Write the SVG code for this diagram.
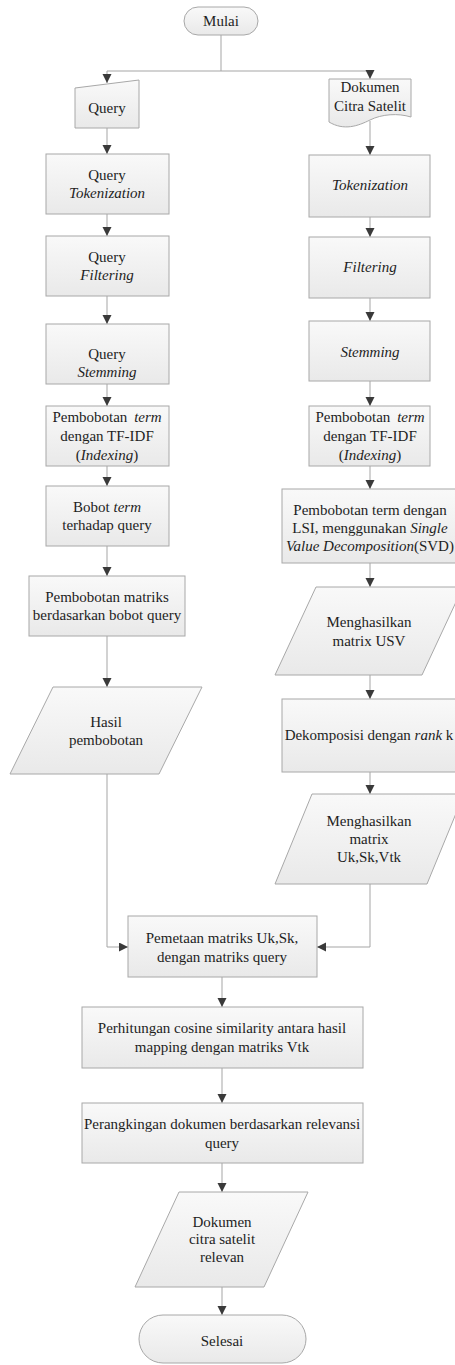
<svg xmlns="http://www.w3.org/2000/svg" width="455" height="1365" viewBox="0 0 455 1365">
<style>
.s{fill:url(#g);stroke:#a8a8a8;stroke-width:1}
.t{font-family:"Liberation Serif","Times New Roman",serif;font-size:15px;fill:#1e1e1e;text-anchor:middle}
.i{font-style:italic}
.c{fill:none;stroke:#a5a5a5;stroke-width:1}
</style>
<defs>
<linearGradient id="g" x1="0" y1="0" x2="0" y2="1">
<stop offset="0" stop-color="#f9f9f9"/>
<stop offset="1" stop-color="#e9e9e9"/>
</linearGradient>
<marker id="a" markerUnits="userSpaceOnUse" markerWidth="10" markerHeight="10" refX="9" refY="4.5" orient="auto">
<path d="M0,0 L9,4.5 L0,9 z" fill="#3a3a3a"/>
</marker>
</defs>
<rect width="455" height="1365" fill="#ffffff"/>
<g id="connectors">
<path class="c" d="M221,35 V71 H107 V83" marker-end="url(#a)"/>
<path class="c" d="M221,71 H370 V79" marker-end="url(#a)"/>
<path class="c" d="M107,128 V154" marker-end="url(#a)"/>
<path class="c" d="M107,214 V236" marker-end="url(#a)"/>
<path class="c" d="M107,296 V324" marker-end="url(#a)"/>
<path class="c" d="M107,384 V406" marker-end="url(#a)"/>
<path class="c" d="M107,466 V486" marker-end="url(#a)"/>
<path class="c" d="M107,546 V576" marker-end="url(#a)"/>
<path class="c" d="M107,636 V687" marker-end="url(#a)"/>
<path class="c" d="M107,774 V947 H128" marker-end="url(#a)"/>
<path class="c" d="M370,121 V155" marker-end="url(#a)"/>
<path class="c" d="M370,217 V237" marker-end="url(#a)"/>
<path class="c" d="M370,298 V321" marker-end="url(#a)"/>
<path class="c" d="M370,381 V406" marker-end="url(#a)"/>
<path class="c" d="M370,466 V489" marker-end="url(#a)"/>
<path class="c" d="M370,563 V587" marker-end="url(#a)"/>
<path class="c" d="M370,675 V699" marker-end="url(#a)"/>
<path class="c" d="M370,772 V794" marker-end="url(#a)"/>
<path class="c" d="M370,884 V947 H317" marker-end="url(#a)"/>
<path class="c" d="M222,977 V1007" marker-end="url(#a)"/>
<path class="c" d="M222,1068 V1103" marker-end="url(#a)"/>
<path class="c" d="M222,1163 V1192" marker-end="url(#a)"/>
<path class="c" d="M222,1287 V1315" marker-end="url(#a)"/>
</g>
<g id="mulai">
<rect class="s" x="184" y="7" width="74" height="28" rx="14"/>
<text class="t" x="221" y="26">Mulai</text>
</g>
<g id="query">
<path class="s" d="M75,88 L139,80 V128 H75 Z"/>
<text class="t" x="107" y="113">Query</text>
</g>
<g id="dokumen">
<path class="s" d="M329,79 H411 V117 C398,113 382,114 370,120 C358,126 344,131 329,122 Z"/>
<text class="t" x="370" y="92">Dokumen</text>
<text class="t" x="370" y="111">Citra Satelit</text>
</g>
<g id="q-token">
<rect class="s" x="46" y="154" width="123" height="60"/>
<text class="t" x="107" y="180">Query</text>
<text class="t i" x="107" y="198">Tokenization</text>
</g>
<g id="q-filter">
<rect class="s" x="46" y="236" width="123" height="60"/>
<text class="t" x="107" y="262">Query</text>
<text class="t i" x="107" y="280">Filtering</text>
</g>
<g id="q-stem">
<rect class="s" x="46" y="324" width="123" height="60"/>
<text class="t" x="107" y="359">Query</text>
<text class="t i" x="107" y="377">Stemming</text>
</g>
<g id="q-tfidf">
<rect class="s" x="46" y="406" width="123" height="60"/>
<text class="t" x="107" y="422" word-spacing="3">Pembobotan <tspan class="i">term</tspan></text>
<text class="t" x="107" y="441">dengan TF-IDF</text>
<text class="t" x="107" y="460">(<tspan class="i">Indexing</tspan>)</text>
</g>
<g id="q-bobot">
<rect class="s" x="46" y="486" width="123" height="60"/>
<text class="t" x="107" y="512">Bobot <tspan class="i">term</tspan></text>
<text class="t" x="107" y="530">terhadap query</text>
</g>
<g id="q-matriks">
<rect class="s" x="29" y="576" width="156" height="60"/>
<text class="t" x="107" y="602">Pembobotan matriks</text>
<text class="t" x="107" y="620">berdasarkan bobot query</text>
</g>
<g id="hasil">
<path class="s" d="M53,687 H202 L159,774 H10 Z"/>
<text class="t" x="106" y="727">Hasil</text>
<text class="t" x="106" y="745">pembobotan</text>
</g>
<g id="d-token">
<rect class="s" x="309" y="155" width="121" height="62"/>
<text class="t i" x="370" y="190">Tokenization</text>
</g>
<g id="d-filter">
<rect class="s" x="309" y="237" width="121" height="61"/>
<text class="t i" x="370" y="272">Filtering</text>
</g>
<g id="d-stem">
<rect class="s" x="309" y="321" width="121" height="60"/>
<text class="t i" x="370" y="357">Stemming</text>
</g>
<g id="d-tfidf">
<rect class="s" x="309" y="406" width="121" height="60"/>
<text class="t" x="370" y="422" word-spacing="3">Pembobotan <tspan class="i">term</tspan></text>
<text class="t" x="370" y="441">dengan TF-IDF</text>
<text class="t" x="370" y="460">(<tspan class="i">Indexing</tspan>)</text>
</g>
<g id="d-lsi">
<rect class="s" x="282" y="489" width="176" height="74"/>
<text class="t" x="370" y="515">Pembobotan term dengan</text>
<text class="t" x="370" y="533">LSI, menggunakan <tspan class="i">Single</tspan></text>
<text class="t" x="370" y="551"><tspan class="i">Value Decomposition</tspan>(SVD)</text>
</g>
<g id="d-usv">
<path class="s" d="M316,587 H463 L422,675 H275 Z"/>
<text class="t" x="369" y="627">Menghasilkan</text>
<text class="t" x="369" y="646">matrix USV</text>
</g>
<g id="d-rank">
<rect class="s" x="282" y="699" width="176" height="73"/>
<text class="t" x="369" y="740">Dekomposisi dengan <tspan class="i">rank</tspan> k</text>
</g>
<g id="d-uk">
<path class="s" d="M312,794 H464 L427,884 H275 Z"/>
<text class="t" x="369" y="826">Menghasilkan</text>
<text class="t" x="369" y="844">matrix</text>
<text class="t" x="369" y="862">Uk,Sk,Vtk</text>
</g>
<g id="pemetaan">
<rect class="s" x="128" y="916" width="189" height="61"/>
<text class="t" x="222" y="943">Pemetaan matriks Uk,Sk,</text>
<text class="t" x="222" y="962">dengan matriks query</text>
</g>
<g id="cosine">
<rect class="s" x="82" y="1007" width="281" height="61"/>
<text class="t" x="222" y="1033">Perhitungan cosine similarity antara hasil</text>
<text class="t" x="222" y="1052">mapping dengan matriks Vtk</text>
</g>
<g id="ranking">
<rect class="s" x="82" y="1103" width="281" height="60"/>
<text class="t" x="222" y="1129">Perangkingan dokumen berdasarkan relevansi</text>
<text class="t" x="222" y="1148">query</text>
</g>
<g id="relevan">
<path class="s" d="M179,1192 H308 L264,1287 H135 Z"/>
<text class="t" x="222" y="1227">Dokumen</text>
<text class="t" x="222" y="1244">citra satelit</text>
<text class="t" x="222" y="1262">relevan</text>
</g>
<g id="selesai">
<rect class="s" x="139" y="1315" width="167" height="48" rx="24"/>
<text class="t" x="222" y="1346">Selesai</text>
</g>
</svg>
